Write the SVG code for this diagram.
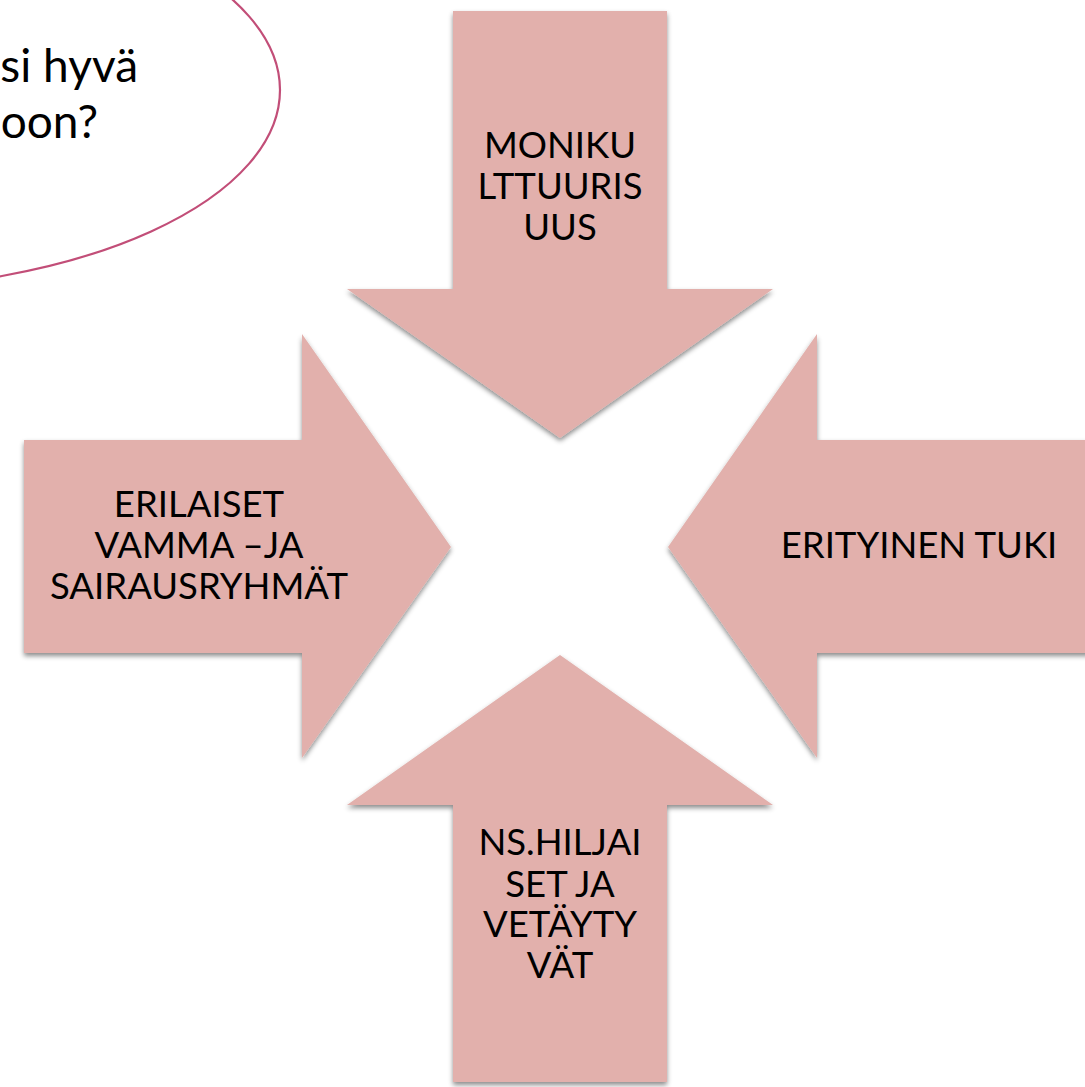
<svg xmlns="http://www.w3.org/2000/svg" width="1085" height="1087" viewBox="0 0 1085 1087">
<defs>
<filter id="sh" x="-10%" y="-10%" width="120%" height="120%">
<feDropShadow dx="0" dy="3" stdDeviation="2.5" flood-color="#000" flood-opacity="0.45"/>
</filter>
</defs>
<style>
.arrow{fill:#e2b0ac;filter:url(#sh);}
.lbl{font-family:Lato,"Noto Sans",sans-serif;font-size:36.5px;font-weight:400;fill:#000;text-anchor:middle;}
.big{font-family:Lato,"Noto Sans",sans-serif;font-size:46px;font-weight:400;fill:#000;text-anchor:end;}
</style>
<rect width="1085" height="1087" fill="#fff"/>
<g id="bubble">
<ellipse cx="-160" cy="90" rx="440" ry="200" fill="none" stroke="#c24e78" stroke-width="2.2"/>
<text class="big" x="138" y="82">si hyvä</text>
<text class="big" x="98" y="138">oon?</text>
</g>
<g id="connectors"></g>
<g id="arrow-top">
<polygon class="arrow" points="453,11 667,11 667,289 773,289 560,438 347,289 453,289"/>
<text class="lbl" x="560" y="158">MONIKU</text>
<text class="lbl" x="560" y="199">LTTUURIS</text>
<text class="lbl" x="560" y="240">UUS</text>
</g>
<g id="arrow-left">
<polygon class="arrow" points="24,440 302,440 302,334 451,547 302,758 302,653 24,653"/>
<text class="lbl" x="199" y="517">ERILAISET</text>
<text class="lbl" x="199" y="558">VAMMA –JA</text>
<text class="lbl" x="199" y="599">SAIRAUSRYHMÄT</text>
</g>
<g id="arrow-right">
<polygon class="arrow" points="1090,440 817,440 817,334 668,547 817,758 817,653 1090,653"/>
<text class="lbl" x="919" y="558">ERITYINEN TUKI</text>
</g>
<g id="arrow-bottom">
<polygon class="arrow" points="453,1082 667,1082 667,805 773,805 560,655 347,805 453,805"/>
<text class="lbl" x="560" y="855">NS.HILJAI</text>
<text class="lbl" x="560" y="897">SET JA</text>
<text class="lbl" x="560" y="937">VETÄYTY</text>
<text class="lbl" x="560" y="978">VÄT</text>
</g>
</svg>
